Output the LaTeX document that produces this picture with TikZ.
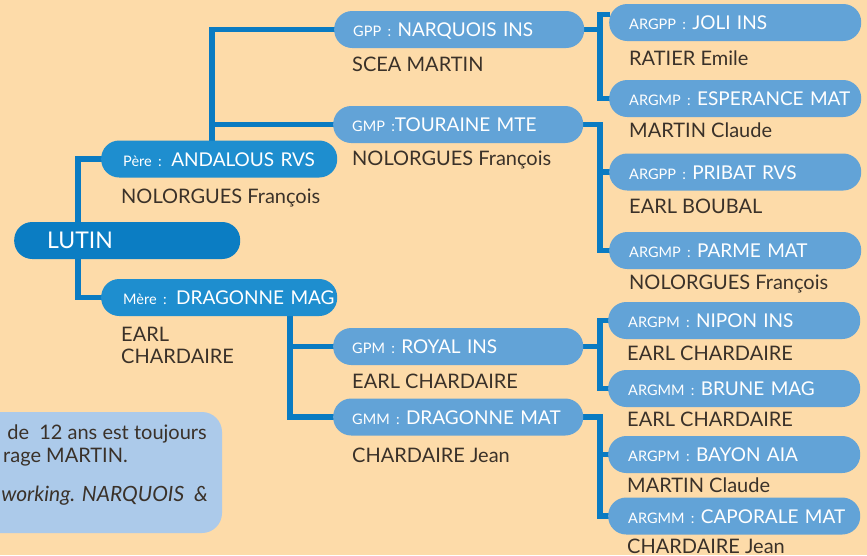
\documentclass[tikz,border=0pt]{standalone}
\usepackage{fontspec}
\setmainfont{Lato}
\usetikzlibrary{positioning}

\definecolor{peach}{HTML}{FDDBA9}
\definecolor{lutinblue}{HTML}{0B7DC3}
\definecolor{parblue}{HTML}{1E8ECF}
\definecolor{gpblue}{HTML}{62A3D7}
\definecolor{linkblue}{HTML}{0A7BC2}
\definecolor{notefill}{HTML}{ACCAEA}
\definecolor{inkbrown}{HTML}{3A3129}

\pgfdeclarelayer{bg}
\pgfdeclarelayer{links}
\pgfsetlayers{bg,links,main}

\newcommand{\pfx}[1]{{\fontsize{14.5}{14.5}\selectfont #1}}

\tikzset{
	pill/.style={rectangle, rounded corners=18pt, minimum height=37pt, inner ysep=0pt,
		anchor=west, align=left, text=white, text height=14pt, text depth=0pt,
		font=\fontsize{19}{19}\selectfont,
		execute at begin node={\leavevmode\hbox\bgroup}, execute at end node={\egroup}},
	rootbox/.style={pill, fill=lutinblue, inner xsep=33pt, text width=160pt,
		text height=16pt, font=\fontsize{23}{23}\selectfont},
	parbox/.style={pill, fill=parblue, inner xsep=22pt, text width=192pt},
	gpbox/.style={pill, fill=gpblue, inner xsep=19pt, text width=212pt},
	argbox/.style={pill, fill=gpblue, inner xsep=20pt, text width=212pt},
	owner/.style={anchor=base west, inner sep=0pt, text=inkbrown,
		font=\fontsize{20}{22}\selectfont},
	notetext/.style={inner sep=0pt, text=inkbrown, font=\fontsize{20}{20}\selectfont},
	link/.style={draw=linkblue, line width=5.5pt, shorten <=-1pt, shorten >=-1pt}
}

\begin{document}
\begin{tikzpicture}[x=1pt,y=-1pt]
	\useasboundingbox (0,0) rectangle (867,555);
	\begin{pgfonlayer}{bg}
		\fill[peach] (0,0) rectangle (867,555);
	\end{pgfonlayer}
	\clip (0,0) rectangle (867,555);

	% foal and parents
	\node[rootbox] (lutin) at (14,240.5) {LUTIN};
	\node[parbox] (pere) at (101,159) {\pfx{Père :} ANDALOUS RVS};
	\node[parbox] (mere) at (101,297.5) {\pfx{Mère :} DRAGONNE MAG};
	\node[owner] (o-pere) at (121,203) {NOLORGUES François};
	\node[owner, anchor=west, align=left] (o-mere) at (121,345.5) {EARL\\CHARDAIRE};

	% grandparents
	\node[gpbox] (gpp) at (334,29.5) {\pfx{GPP :} NARQUOIS INS};
	\node[gpbox] (gmp) at (333,124.5) {\pfx{GMP :}TOURAINE MTE};
	\node[gpbox] (gpm) at (333,346.5) {\pfx{GPM :} ROYAL INS};
	\node[gpbox] (gmm) at (333,417) {\pfx{GMM :} DRAGONNE MAT};
	\node[owner] (o-gpp) at (352,71) {SCEA MARTIN};
	\node[owner] (o-gmp) at (352,165) {NOLORGUES François};
	\node[owner] (o-gpm) at (352,388) {EARL CHARDAIRE};
	\node[owner] (o-gmm) at (352,462) {CHARDAIRE Jean};

	% great-grandparents
	\node[argbox] (joli) at (609,22.5) {\pfx{ARGPP :} JOLI INS};
	\node[argbox] (esper) at (609,98.5) {\pfx{ARGMP :} ESPERANCE MAT};
	\node[argbox] (pribat) at (609,172) {\pfx{ARGPP :} PRIBAT RVS};
	\node[argbox] (parme) at (609,250.5) {\pfx{ARGMP :} PARME MAT};
	\node[argbox] (nipon) at (608,320.5) {\pfx{ARGPM :} NIPON INS};
	\node[argbox] (brune) at (608,388.5) {\pfx{ARGMM :} BRUNE MAG};
	\node[argbox] (bayon) at (608,454.5) {\pfx{ARGPM :} BAYON AIA};
	\node[argbox] (caporale) at (608,516) {\pfx{ARGMM :} CAPORALE MAT};
	\node[owner] (o-joli) at (629,65) {RATIER Emile};
	\node[owner] (o-esper) at (629,137) {MARTIN Claude};
	\node[owner] (o-pribat) at (629,213) {EARL BOUBAL};
	\node[owner] (o-parme) at (629,289) {NOLORGUES François};
	\node[owner] (o-nipon) at (627,360) {EARL CHARDAIRE};
	\node[owner] (o-brune) at (627,426) {EARL CHARDAIRE};
	\node[owner] (o-bayon) at (627,492) {MARTIN Claude};
	\node[owner] (o-caporale) at (627,553) {CHARDAIRE Jean};

	% note
	\node[fill=notefill, rounded corners=20pt, minimum width=252pt, minimum height=121pt,
		inner sep=0pt] (note) at (96,472.5) {};
	\node[notetext, anchor=base east] (note1) at (207,439) {de\ \ 12 ans est toujours};
	\node[notetext, anchor=base west] (note2) at (3,462) {rage MARTIN.};
	\node[notetext, anchor=base east, font=\fontsize{21}{21}\selectfont\itshape] (note3) at (208,501) {working. NARQUOIS \ \&};

	% connectors
	\begin{pgfonlayer}{links}
		\draw[link] (pere.west) -| ([xshift=64pt]lutin.west) |- (mere.west);
		\draw[link] (gpp.west) -| ([xshift=-7pt]pere.north) coordinate (spineP);
		\draw[link] (gmp.west) -- (gmp.west -| spineP);
		\draw[link] (gmm.west) -| ([xshift=71pt]mere.south) coordinate (spineM);
		\draw[link] (gpm.west) -- (gpm.west -| spineM);
		\draw[link] ([yshift=8pt]joli.west) -- ++(-9,0) coordinate (spineA) |- (esper.west);
		\draw[link] (gpp.east) -- (gpp.east -| spineA);
		\draw[link] (pribat.west) -- ++(-9,0) coordinate (spineB) |- (parme.west);
		\draw[link] (gmp.east) -| (spineB);
		\draw[link] (nipon.west) -- ++(-8,0) coordinate (spineC) |- (brune.west);
		\draw[link] (gpm.east) -- (gpm.east -| spineC);
		\draw[link] (bayon.west) -- ++(-8,0) coordinate (spineD) |- (caporale.west);
		\draw[link] (gmm.east) -| (spineD);
	\end{pgfonlayer}
\end{tikzpicture}
\end{document}
